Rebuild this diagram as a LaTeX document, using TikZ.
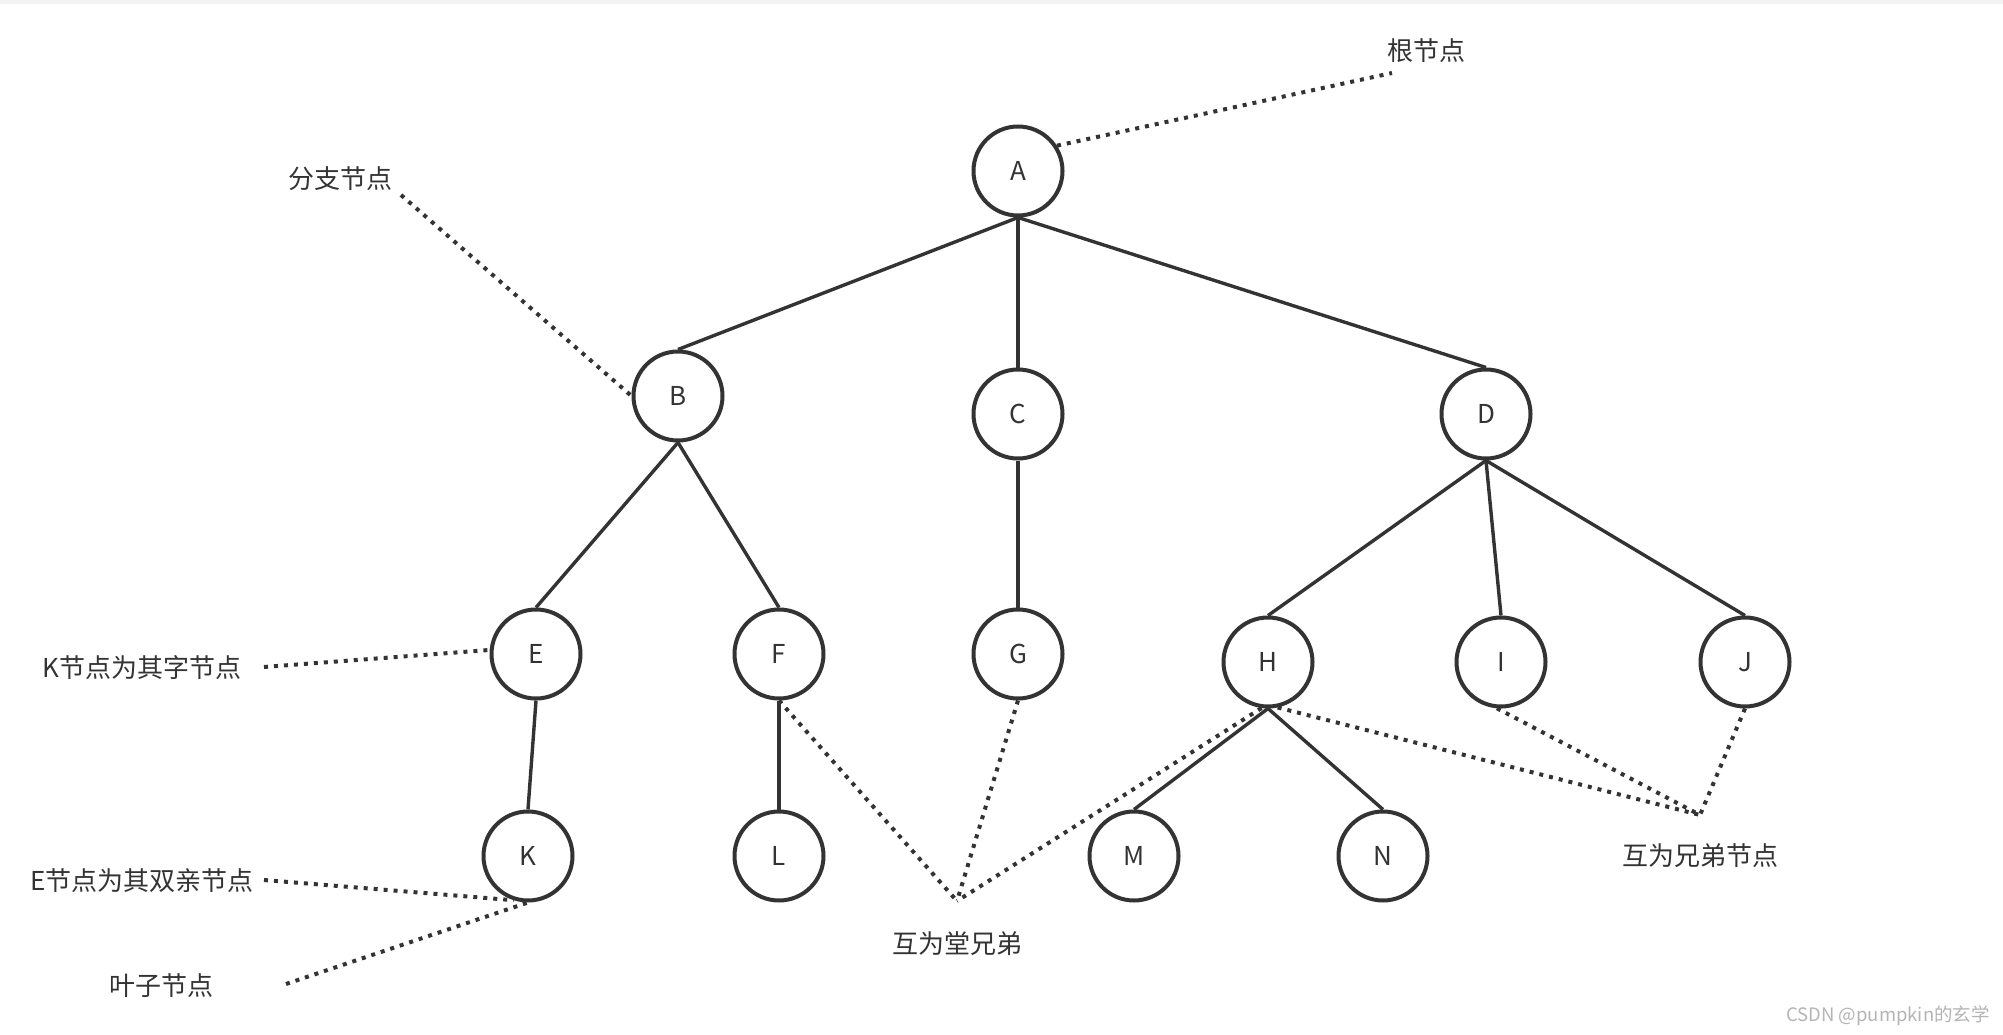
\documentclass[tikz,border=0pt]{standalone}
\usepackage{fontspec}
\setmainfont{Noto Sans CJK SC}
\definecolor{ink}{HTML}{333333}
\definecolor{mark}{HTML}{B4B4B4}
\definecolor{strip}{HTML}{F2F2F2}
\begin{document}
\begin{tikzpicture}[x=1pt,y=-1pt,
  tn/.style={circle,draw=ink,line width=4pt,minimum size=89pt,inner sep=0pt,text=ink,font=\fontsize{26}{30}\selectfont},
  lbl/.style={text=ink,inner sep=0pt,font=\fontsize{26}{30}\selectfont},
  edge/.style={draw=ink,line width=3.4pt},
  dots/.style={draw=ink,line width=4pt,dash pattern=on 4pt off 6pt}]
\useasboundingbox (0,0) rectangle (2003,1035);
\fill[strip] (0,0) rectangle (2003,4);
% tree nodes
\node[tn] (A) at (1018,171) {A};
\node[tn] (B) at (678,396) {B};
\node[tn] (C) at (1018,414) {C};
\node[tn] (D) at (1486,414) {D};
\node[tn] (E) at (536,654) {E};
\node[tn] (F) at (779,654) {F};
\node[tn] (G) at (1018,654) {G};
\node[tn] (H) at (1268,662) {H};
\node[tn] (I) at (1501,662) {I};
\node[tn] (J) at (1745,662) {J};
\node[tn] (K) at (528,856) {K};
\node[tn] (L) at (779,856) {L};
\node[tn] (M) at (1134,856) {M};
\node[tn] (N) at (1383,856) {N};
% edges
\draw[edge] (A.south) -- (B.north);
\draw[edge] (A.south) -- (C.north);
\draw[edge] (A.south) -- (D.north);
\draw[edge] (B.south) -- (E.north);
\draw[edge] (B.south) -- (F.north);
\draw[edge] (C.south) -- (G.north);
\draw[edge] (D.south) -- (H.north);
\draw[edge] (D.south) -- (I.north);
\draw[edge] (D.south) -- (J.north);
\draw[edge] (E.south) -- (K.north);
\draw[edge] (F.south) -- (L.north);
\draw[edge] (H.south) -- (M.north);
\draw[edge] (H.south) -- (N.north);
% labels
\node[lbl] (root) at (1426,51) {根节点};
\node[lbl] (branch) at (340,179) {分支节点};
\node[lbl] (kchild) at (142,668) {K节点为其字节点};
\node[lbl] (eparent) at (142,881) {E节点为其双亲节点};
\node[lbl] (leaf) at (161,986) {叶子节点};
\node[lbl] (cousin) at (957,944) {互为堂兄弟};
\node[lbl] (sibling) at (1700,856) {互为兄弟节点};
\node[text=mark,inner sep=0pt,anchor=east,font=\fontsize{18.5}{22}\selectfont] (wm) at (1990,1016) {CSDN @pumpkin的玄学};
% free ends
\coordinate (rootE) at (1392,73);
\coordinate (branchE) at (401,195);
\coordinate (kchildE) at (264,667);
\coordinate (eparentE) at (264,880);
\coordinate (leafE) at (286,984);
\coordinate (cousinP) at (957,901);
\coordinate (siblingP) at (1700,815);
% dotted annotations
\draw[dots] (A.33) -- (rootE);
\draw[dots] (branchE) -- (B.west);
\draw[dots] (kchildE) -- (E.175);
\draw[dots] (eparentE) -- (K.252);
\draw[dots] (leafE) -- (K.south);
\draw[dots] (F.south) -- (cousinP);
\draw[dots] (G.south) -- (cousinP);
\draw[dots] (H.262) -- (cousinP);
\draw[dots] (H.282) -- (siblingP);
\draw[dots] (I.265) -- (siblingP);
\draw[dots] (J.south) -- (siblingP);
\end{tikzpicture}
\end{document}
